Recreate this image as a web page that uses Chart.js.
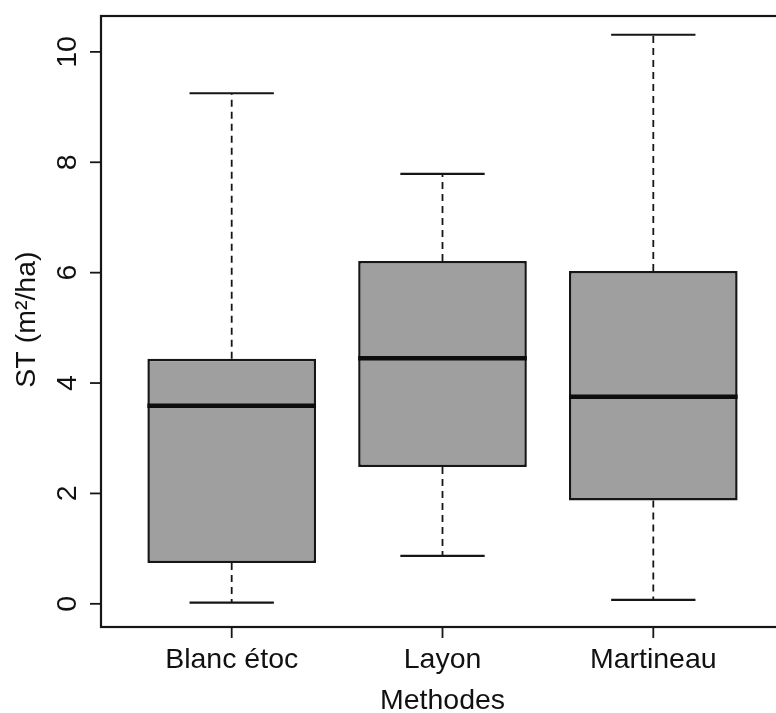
<!DOCTYPE html>
<html>
<head>
<meta charset="utf-8">
<script src="https://cdn.jsdelivr.net/npm/chart.js@4"></script>
<style>
  html, body { margin: 0; padding: 0; background: #fff; overflow: hidden; }
  #wrap { width: 790px; height: 713px; position: relative; }
</style>
</head>
<body>
<div id="wrap"><canvas id="boxChart"></canvas></div>
<script>
// Box plot data
const categories = ['Blanc étoc', 'Layon', 'Martineau'];
const lowWhisker = [0.02, 0.87, 0.07];
const lowerQuartile = [0.74, 2.48, 1.87];
const medians = [3.59, 4.45, 3.75];
const upperQuartile = [4.44, 6.21, 6.03];
const highWhisker = [9.25, 7.79, 10.31];
const yTicks = [0, 2, 4, 6, 8, 10];

const FONT = '28.5px "Liberation Sans", Arial, sans-serif';
const INK = '#161616';

// whiskers, caps, medians, frame and axes (R boxplot style)
const boxplotExtras = {
    id: 'boxplotExtras',
    afterDatasetsDraw(chart) {
        const { ctx, chartArea, scales: { x, y } } = chart;
        ctx.save();
        categories.forEach((name, i) => {
            const cx = x.getPixelForValue(i + 1);
            const halfBox = x.getPixelForValue(i + 1.4) - cx;
            const halfCap = x.getPixelForValue(i + 1.2) - cx;

            // dashed whiskers
            ctx.strokeStyle = INK;
            ctx.lineWidth = 1.8;
            ctx.setLineDash([7, 5]);
            ctx.beginPath();
            ctx.moveTo(cx, y.getPixelForValue(upperQuartile[i]));
            ctx.lineTo(cx, y.getPixelForValue(highWhisker[i]));
            ctx.moveTo(cx, y.getPixelForValue(lowerQuartile[i]));
            ctx.lineTo(cx, y.getPixelForValue(lowWhisker[i]));
            ctx.stroke();
            ctx.setLineDash([]);

            // caps
            ctx.lineWidth = 2.2;
            ctx.beginPath();
            [highWhisker[i], lowWhisker[i]].forEach(v => {
                const py = y.getPixelForValue(v);
                ctx.moveTo(cx - halfCap, py);
                ctx.lineTo(cx + halfCap, py);
            });
            ctx.stroke();

            // median
            ctx.lineWidth = 4.5;
            ctx.strokeStyle = '#0d0d0d';
            const my = y.getPixelForValue(medians[i]);
            ctx.beginPath();
            ctx.moveTo(cx - halfBox, my);
            ctx.lineTo(cx + halfBox, my);
            ctx.stroke();
        });

        // frame
        ctx.strokeStyle = INK;
        ctx.lineWidth = 2.2;
        ctx.strokeRect(chartArea.left, chartArea.top,
            chartArea.right - chartArea.left, chartArea.bottom - chartArea.top);

        // y axis ticks and rotated labels
        ctx.fillStyle = '#111';
        ctx.font = FONT;
        ctx.lineWidth = 1.8;
        yTicks.forEach(v => {
            const py = y.getPixelForValue(v);
            ctx.beginPath();
            ctx.moveTo(chartArea.left, py);
            ctx.lineTo(chartArea.left - 11, py);
            ctx.stroke();
            ctx.save();
            ctx.translate(chartArea.left - 25, py);
            ctx.rotate(-Math.PI / 2);
            ctx.textAlign = 'center';
            ctx.textBaseline = 'alphabetic';
            ctx.fillText(String(v), 0, 0);
            ctx.restore();
        });

        // x axis ticks and labels
        categories.forEach((name, i) => {
            const px = x.getPixelForValue(i + 1);
            ctx.beginPath();
            ctx.moveTo(px, chartArea.bottom);
            ctx.lineTo(px, chartArea.bottom + 11);
            ctx.stroke();
            ctx.textAlign = 'center';
            ctx.textBaseline = 'alphabetic';
            ctx.fillText(name, px, chartArea.bottom + 41);
        });

        // axis titles
        ctx.fillText('Methodes', (chartArea.left + chartArea.right) / 2, chartArea.bottom + 82);
        ctx.save();
        ctx.translate(35, y.getPixelForValue(5.15));
        ctx.rotate(-Math.PI / 2);
        ctx.textAlign = 'center';
        ctx.fillText('ST (m²/ha)', 0, 0);
        ctx.restore();

        ctx.restore();
    }
};

const ctx = document.getElementById('boxChart').getContext('2d');
new Chart(ctx, {
    type: 'bar',
    data: {
        datasets: [{
            label: 'ST',
            data: categories.map((c, i) => ({ x: i + 1, y: [lowerQuartile[i], upperQuartile[i]] })),
            backgroundColor: '#9f9f9f',
            borderColor: INK,
            borderWidth: 2.5,
            borderSkipped: false,
            barPercentage: 0.8,
            categoryPercentage: 1.0
        }]
    },
    options: {
        responsive: true,
        maintainAspectRatio: false,
        animation: false,
        layout: { padding: { left: 101, top: 16, right: 6, bottom: 86 } },
        plugins: {
            legend: { display: false },
            tooltip: { enabled: false }
        },
        scales: {
            x: {
                type: 'linear',
                display: false,
                offset: false,
                min: 0.38,
                max: 3.62,
                afterBuildTicks: scale => { scale.ticks = [1, 2, 3].map(v => ({ value: v })); }
            },
            y: {
                type: 'linear',
                display: false,
                min: -0.42,
                max: 10.65,
                afterBuildTicks: scale => { scale.ticks = yTicks.map(v => ({ value: v })); }
            }
        }
    },
    plugins: [boxplotExtras]
});
</script>
</body>
</html>
